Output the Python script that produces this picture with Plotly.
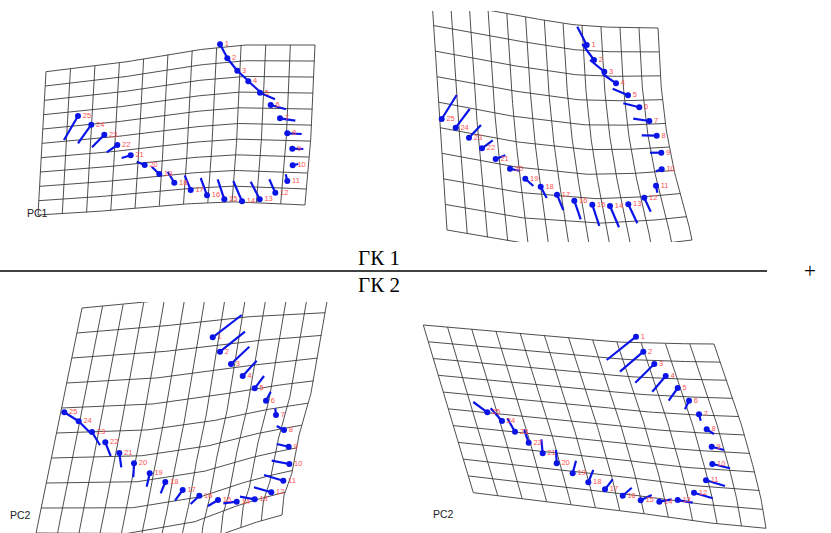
import numpy as np
import plotly.graph_objects as go

W, H = 831, 533
LABELS = [str(i) for i in range(1, 26)]

# ---------------- landmark data (pixel coordinates of the picture) ----------------
# Panel A: PC1, left
A_X = [220.0, 227.3, 237.3, 248.3, 260.0, 270.7, 280.0, 287.3, 292.3, 292.7, 287.3, 275.3, 259.7,
       242.0, 224.3, 207.0, 190.7, 174.3, 159.3, 144.7, 130.7, 117.3, 104.3, 91.3, 78.0]
A_Y = [44.3, 58.3, 70.7, 81.3, 92.7, 105.0, 118.3, 133.3, 148.7, 165.3, 181.0, 192.7, 199.3,
       201.3, 199.3, 195.3, 190.0, 182.7, 174.0, 165.0, 155.3, 145.0, 134.7, 124.7, 116.0]
A_TX = [226.7, 236.7, 248.3, 260.0, 275.0, 286.0, 295.3, 301.7, 303.3, 298.3, 285.7, 269.3, 250.7,
        233.3, 217.7, 200.7, 184.7, 167.7, 151.7, 136.7, 121.7, 106.7, 92.0, 78.0, 64.0]
A_TY = [56.7, 70.0, 80.7, 91.7, 99.3, 109.3, 120.7, 134.0, 149.0, 164.0, 174.3, 179.3, 181.7,
        181.0, 179.3, 178.0, 175.3, 171.7, 166.7, 161.7, 158.0, 152.3, 147.3, 143.3, 140.0]

# Panel B: PC1, right
B_X = [586.7, 594.0, 604.3, 616.0, 628.0, 639.3, 649.3, 656.7, 661.3, 661.7, 656.0, 644.3, 628.3,
       610.0, 592.3, 574.3, 557.0, 540.7, 525.3, 510.0, 495.7, 482.0, 469.0, 455.7, 441.7]
B_Y = [45.0, 60.0, 71.7, 83.3, 95.3, 107.3, 121.0, 135.7, 152.7, 169.3, 185.7, 197.7, 204.3,
       206.0, 204.7, 200.7, 194.7, 186.7, 178.7, 168.7, 159.0, 148.3, 137.7, 127.7, 119.0]
B_TX = [577.3, 582.3, 590.0, 602.7, 612.7, 623.3, 633.3, 641.7, 650.0, 655.7, 657.3, 650.7, 637.3,
        619.0, 599.3, 580.7, 563.3, 546.7, 533.3, 519.0, 505.3, 492.7, 481.0, 469.7, 456.7]
B_TY = [26.7, 44.0, 60.0, 74.0, 88.7, 103.3, 118.7, 135.3, 152.7, 171.3, 192.7, 211.7, 223.3,
        227.3, 226.0, 219.3, 210.0, 198.0, 186.0, 170.7, 155.3, 140.3, 125.0, 109.0, 95.0]

# Panel C: PC2, left
C_X = [212.7, 220.0, 231.0, 242.7, 254.7, 266.0, 276.0, 284.0, 288.7, 289.3, 283.3, 271.3, 254.7,
       236.7, 218.0, 199.3, 182.7, 165.3, 149.7, 134.0, 119.3, 105.3, 92.0, 78.7, 64.3]
C_Y = [337.3, 351.7, 364.0, 376.0, 388.3, 400.7, 415.0, 430.0, 446.7, 464.0, 480.7, 492.3, 499.3,
       501.7, 500.0, 495.7, 490.0, 482.0, 473.3, 463.3, 453.0, 442.3, 432.0, 421.3, 412.3]
C_TX = [241.7, 245.0, 249.3, 256.7, 264.0, 270.7, 275.3, 276.7, 276.7, 271.7, 264.0, 254.0, 240.0,
        223.3, 208.0, 190.7, 175.0, 160.7, 146.7, 133.3, 121.3, 110.7, 100.0, 90.7, 78.7]
C_TY = [315.0, 331.7, 346.7, 360.7, 376.0, 391.7, 408.3, 426.0, 444.0, 460.7, 475.0, 487.3, 496.7,
        503.3, 506.0, 504.0, 500.7, 493.3, 486.7, 477.3, 467.3, 456.0, 445.3, 433.3, 421.3]

# Panel D: PC2, right
D_X = [636.0, 643.3, 654.3, 665.7, 677.7, 689.0, 699.0, 706.7, 711.7, 712.3, 706.0, 694.0, 677.7,
       659.3, 640.7, 622.7, 605.0, 588.3, 572.7, 556.7, 542.7, 528.7, 515.0, 502.0, 487.3]
D_Y = [336.7, 351.7, 364.0, 376.0, 388.0, 400.7, 414.3, 429.3, 446.7, 464.0, 480.3, 492.7, 500.0,
       501.7, 500.3, 495.7, 489.3, 482.3, 473.3, 463.3, 453.3, 442.7, 431.7, 421.0, 412.3]
D_TX = [606.7, 620.0, 635.3, 652.3, 668.7, 685.0, 700.7, 714.0, 724.0, 730.0, 725.0, 712.7, 692.7,
        671.7, 651.7, 631.7, 612.7, 593.3, 576.0, 556.0, 541.3, 524.0, 507.3, 490.7, 473.3]
D_TY = [360.0, 371.7, 382.7, 391.7, 400.7, 409.3, 420.7, 434.0, 450.0, 468.3, 486.0, 498.3, 502.7,
        499.3, 495.0, 487.7, 479.3, 470.0, 460.7, 450.0, 439.3, 429.3, 418.3, 408.3, 402.0]

# ---------------- deformation-grid outlines (top, bottom, left, right edges) ----------------
A_TOP = [(46, 71.7), (118, 63.3), (191, 50.7), (240, 45), (315, 45)]
A_BOT = [(38, 215), (83, 212.7), (133, 208.3), (167, 205), (226.7, 201.7), (260, 202.7), (283.3, 204), (305, 205)]
A_LEFT = [(46, 71.7), (38, 215)]
A_RIGHT = [(315, 45), (311.7, 130), (306.7, 180), (305, 205)]

B_TOP = [(432, 0), (480, 9), (566, 24), (600, 27), (658, 28)]
B_BOT = [(447, 230), (520, 243), (600, 248), (650, 245), (692, 240)]
B_LEFT = [(432, 0), (447, 230)]
B_RIGHT = [(658, 28), (660, 75), (665, 123), (673, 167), (687, 217), (692, 240)]

C_TOP = [(82, 308), (150, 302), (240, 292), (329, 290)]
C_BOT = [(31, 558), (120, 560), (190, 548), (220, 535), (250, 524), (282, 515)]
C_LEFT = [(82, 308), (31, 558)]
C_RIGHT = [(329, 290), (312, 390), (300, 430), (292, 473), (284, 495), (282, 515)]

D_TOP = [(423.3, 325), (495, 331), (565, 337), (610, 341.7), (660, 343.5), (714, 344)]
D_BOT = [(473.3, 492.7), (560, 503), (633, 512), (700, 522), (766, 528.3)]
D_LEFT = [(423.3, 325), (473.3, 492.7)]
D_RIGHT = [(714, 344), (737, 410), (748, 447), (760, 493), (766, 528.3)]

GRID_CELLS = {"A": (11, 10), "B": (12, 9), "C": (12, 10), "D": (12, 10)}


def curve(pts, t):
    p = np.asarray(pts, float)
    d = np.r_[0, np.cumsum(np.hypot(*np.diff(p, axis=0).T))]
    d = d / d[-1]
    return np.interp(t, d, p[:, 0]), np.interp(t, d, p[:, 1])


def coons(top, bot, left, right, u, v):
    tx, ty = curve(top, u)
    bx, by = curve(bot, u)
    lx, ly = curve(left, v)
    rx, ry = curve(right, v)
    p00, p10, p01, p11 = np.array(top[0]), np.array(top[-1]), np.array(bot[0]), np.array(bot[-1])
    corner = lambda k: ((1 - u) * (1 - v) * p00[k] + u * (1 - v) * p10[k] + (1 - u) * v * p01[k] + u * v * p11[k])
    x = (1 - v) * tx + v * bx + (1 - u) * lx + u * rx - corner(0)
    y = (1 - v) * ty + v * by + (1 - u) * ly + u * ry - corner(1)
    return x, y


def grid_lines(top, bot, left, right, nc, nr):
    xs, ys = [], []
    s = np.linspace(0, 1, 60)
    for i in range(nc + 1):
        x, y = coons(top, bot, left, right, np.full_like(s, i / nc), s)
        xs += list(x) + [None]
        ys += list(y) + [None]
    for j in range(nr + 1):
        x, y = coons(top, bot, left, right, s, np.full_like(s, j / nr))
        xs += list(x) + [None]
        ys += list(y) + [None]
    return xs, ys


panels = [
    ("A", (A_TOP, A_BOT, A_LEFT, A_RIGHT), (A_X, A_Y, A_TX, A_TY), (0, 335, 28, 232), "PC1", (25, 213)),
    ("B", (B_TOP, B_BOT, B_LEFT, B_RIGHT), (B_X, B_Y, B_TX, B_TY), (415, 725, 11, 242), None, None),
    ("C", (C_TOP, C_BOT, C_LEFT, C_RIGHT), (C_X, C_Y, C_TX, C_TY), (0, 365, 302, 533), "PC2", (8, 515)),
    ("D", (D_TOP, D_BOT, D_LEFT, D_RIGHT), (D_X, D_Y, D_TX, D_TY), (400, 831, 305, 533), "PC2", (431, 514)),
]

fig = go.Figure()
layout_axes = {}
annotations = []
for n, (key, edges, lm, win, tag, tagpos) in enumerate(panels, start=1):
    xa = "x" if n == 1 else f"x{n}"
    ya = "y" if n == 1 else f"y{n}"
    x0, x1, y0, y1 = win
    layout_axes["xaxis" if n == 1 else f"xaxis{n}"] = dict(
        domain=[x0 / W, x1 / W], range=[x0, x1], visible=False, fixedrange=True, anchor=ya)
    layout_axes["yaxis" if n == 1 else f"yaxis{n}"] = dict(
        domain=[1 - y1 / H, 1 - y0 / H], range=[y1, y0], visible=False, fixedrange=True, anchor=xa)

    nc, nr = GRID_CELLS[key]
    gx, gy = grid_lines(*edges, nc, nr)
    fig.add_trace(go.Scatter(x=gx, y=gy, mode="lines", xaxis=xa, yaxis=ya,
                             line=dict(color="#3a3a3a", width=0.9), hoverinfo="skip", showlegend=False))

    px, py, tx, ty = lm
    vx, vy = [], []
    for a, b, c, d in zip(px, py, tx, ty):
        vx += [a, c, None]
        vy += [b, d, None]
    fig.add_trace(go.Scatter(x=vx, y=vy, mode="lines", xaxis=xa, yaxis=ya,
                             line=dict(color="#0a14e6", width=2.2), hoverinfo="skip", showlegend=False))
    fig.add_trace(go.Scatter(x=px, y=py, mode="markers+text", xaxis=xa, yaxis=ya, text=LABELS,
                             textposition="middle right",
                             textfont=dict(family="Arial, Liberation Sans", size=7.5, color="#ff5050"),
                             marker=dict(color="#0a14e6", size=6), hoverinfo="skip", showlegend=False))
    if tag:
        annotations.append(dict(x=tagpos[0], y=tagpos[1], xref=xa, yref=ya, text=tag, showarrow=False,
                                xanchor="left", yanchor="middle",
                                font=dict(family="Arial, Liberation Sans", size=10.5, color="#222222")))

annotations += [
    dict(x=379 / W, y=1 - 258 / H, xref="paper", yref="paper", text="ГК 1", showarrow=False,
         xanchor="center", yanchor="middle", font=dict(family="Liberation Serif, Times New Roman", size=21, color="#000")),
    dict(x=379 / W, y=1 - 285 / H, xref="paper", yref="paper", text="ГК 2", showarrow=False,
         xanchor="center", yanchor="middle", font=dict(family="Liberation Serif, Times New Roman", size=21, color="#000")),
    dict(x=810 / W, y=1 - 271 / H, xref="paper", yref="paper", text="+", showarrow=False,
         xanchor="center", yanchor="middle", font=dict(family="Liberation Serif, Times New Roman", size=21, color="#000")),
]

fig.update_layout(
    width=W, height=H, margin=dict(l=0, r=0, t=0, b=0),
    paper_bgcolor="white", plot_bgcolor="rgba(0,0,0,0)",
    annotations=annotations,
    shapes=[dict(type="line", xref="paper", yref="paper", x0=0, x1=767 / W, y0=1 - 271 / H, y1=1 - 271 / H,
                 line=dict(color="black", width=1.3))],
    **layout_axes,
)
fig.write_html("out.html", config={"displayModeBar": False},
               post_script="document.body.style.margin='0';document.body.style.overflow='hidden';")
